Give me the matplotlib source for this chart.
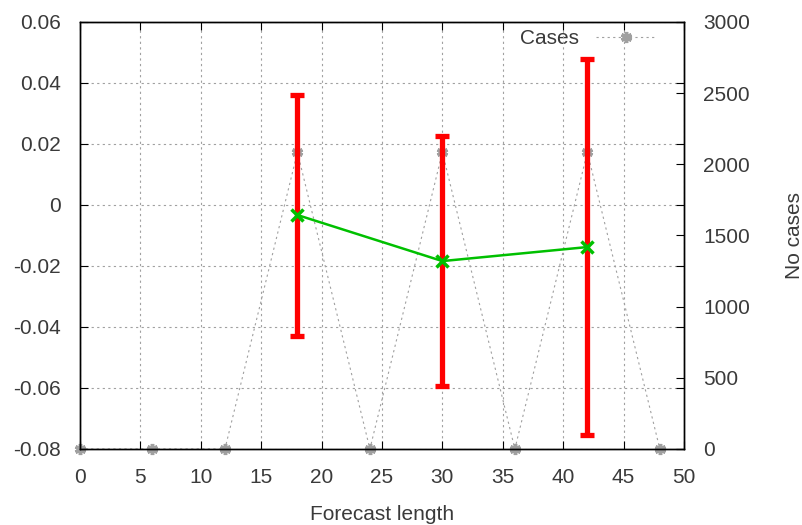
import matplotlib
matplotlib.use("Agg")
import matplotlib.pyplot as plt
import numpy as np

plt.rcParams['font.family'] = ['Liberation Sans', 'DejaVu Sans']
txt = '#3a3a3a'

# data
lead = [18, 30, 42]
mean = [-0.0033, -0.0184, -0.0138]
err_lo = [-0.043, -0.0593, -0.0754]
err_hi = [0.036, 0.0226, 0.0479]

case_x = [0, 6, 12, 18, 24, 30, 36, 42, 48]
cases = [0, 0, 0, 2085, 0, 2085, 0, 2085, 0]

fig = plt.figure(figsize=(8.03, 5.25), dpi=100)
ax = fig.add_axes([0.0996, 0.1448, 0.7522, 0.8134])
ax2 = ax.twinx()

# cases on right axis
ax2.plot(case_x, cases, color='#a0a0a0', linestyle=(0, (2, 3)), linewidth=0.8,
         marker=(6, 2, 0), markersize=8, markeredgewidth=2.5,
         markeredgecolor='#a0a0a0', label='Cases', clip_on=False, zorder=2)
ax2.set_ylim(0, 3000)
ax2.set_yticks(np.arange(0, 3001, 500))
ax2.set_ylabel('No cases', fontsize=15, labelpad=25, color=txt)

# mean with error bars on left axis
m = np.array(mean)
yerr = [m - np.array(err_lo), np.array(err_hi) - m]
ax.set_zorder(ax2.get_zorder() + 1)
ax.patch.set_visible(False)
ax.errorbar(lead, mean, yerr=yerr, fmt='none', ecolor='#ff0000',
            elinewidth=3.8, capsize=4.8, capthick=3.8, zorder=3)
ax.plot(lead, mean, color='#00c000', linewidth=1.8, marker='x',
        markersize=8, markeredgewidth=2.5, zorder=4)

ax.set_xlim(0, 50)
ax.set_ylim(-0.08, 0.06)
ax.set_xticks(np.arange(0, 51, 5))
ax.set_yticks(np.arange(-0.08, 0.0601, 0.02))
ax.set_yticklabels(['-0.08', '-0.06', '-0.04', '-0.02', '0', '0.02', '0.04', '0.06'])
ax.grid(True, color='#a0a0a0', linestyle=(0, (2, 3)), linewidth=0.8)
ax.set_xlabel('Forecast length', fontsize=15, labelpad=13, color=txt)

for a in (ax, ax2):
    a.tick_params(direction='in', length=6, labelsize=15, pad=14,
                  labelcolor=txt, color='black')
    for s in a.spines.values():
        s.set_linewidth(1.0)
ax.tick_params(top=True, right=True)

leg = ax2.legend(loc='upper right', frameon=False, fontsize=15,
                 markerfirst=False, handlelength=2.9, handletextpad=0.8,
                 borderpad=0, borderaxespad=0,
                 bbox_to_anchor=(656 / 803, 1 - 29 / 525),
                 bbox_transform=fig.transFigure)
for t in leg.get_texts():
    t.set_color(txt)

fig.savefig('out.png', dpi=100)
